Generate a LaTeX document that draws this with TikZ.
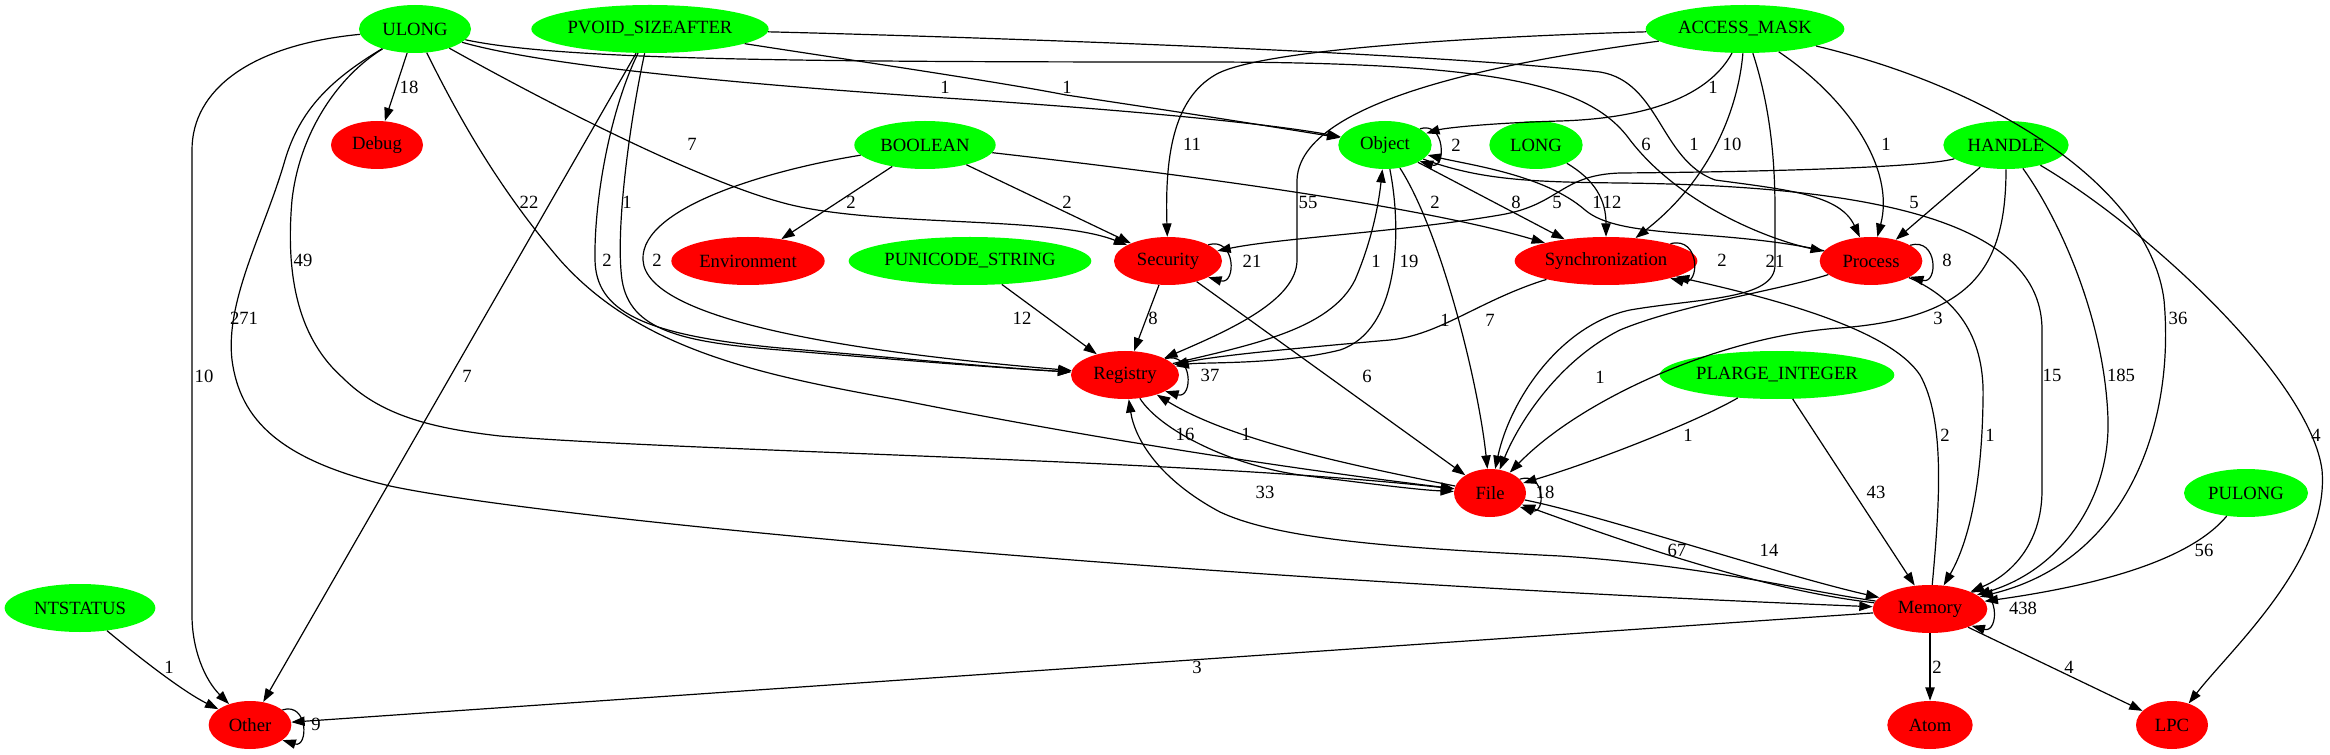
\documentclass[tikz,border=0pt]{standalone}
\usepackage{fontspec}
\setmainfont{Liberation Serif}
\usetikzlibrary{shapes.geometric,arrows.meta}
\begin{document}
\begin{tikzpicture}[x=0.75pt,y=-0.75pt,
  every node/.style={font=\fontsize{14}{16}\selectfont},
  nd/.style={ellipse,inner sep=0pt,minimum height=36pt},
  gn/.style={nd,fill=green},
  rn/.style={nd,fill=red},
  e/.style={draw,line width=0.9pt,-{Triangle[length=10pt,width=7pt]}},
  lbl/.style={inner sep=0pt}]
\useasboundingbox (0,0) rectangle (2330,755);
% nodes
\node[gn,minimum width=84pt] (ULONG) at (415,29) {ULONG};
\node[gn,minimum width=178pt] (PVOID) at (650,29) {PVOID\_SIZEAFTER};
\node[gn,minimum width=149pt] (AM) at (1745,29) {ACCESS\_MASK};
\node[rn,minimum width=69pt] (Debug) at (377,145) {Debug};
\node[gn,minimum width=106pt] (BOOL) at (925,145) {BOOLEAN};
\node[gn,minimum width=70pt] (Object) at (1385,145) {Object};
\node[gn,minimum width=70pt] (LONG) at (1536,145) {LONG};
\node[gn,minimum width=94pt] (HANDLE) at (2006,145) {HANDLE};
\node[rn,minimum width=115pt] (Env) at (748,261) {Environment};
\node[gn,minimum width=182pt] (PUNI) at (970,261) {PUNICODE\_STRING};
\node[rn,minimum width=81pt] (Sec) at (1168,261) {Security};
\node[rn,minimum width=137pt] (Sync) at (1606,261) {Synchronization};
\node[rn,minimum width=77pt] (Proc) at (1871,261) {Process};
\node[rn,minimum width=81pt] (Reg) at (1125,375) {Registry};
\node[gn,minimum width=176pt] (PLI) at (1777,375) {PLARGE\_INTEGER};
\node[rn,minimum width=54pt] (File) at (1490,493) {File};
\node[gn,minimum width=93pt] (PULONG) at (2246,493) {PULONG};
\node[gn,minimum width=113pt] (NTS) at (80,608) {NTSTATUS};
\node[rn,minimum width=86pt] (Mem) at (1930,609) {Memory};
\node[rn,minimum width=62pt] (Other) at (250,725) {Other};
\node[rn,minimum width=64pt] (Atom) at (1930,725) {Atom};
\node[rn,minimum width=54pt] (LPC) at (2172,725) {LPC};
% ULONG edges
\draw[e] (ULONG) -- (Debug);
\draw[e] (ULONG) .. controls (250,45) and (192,90) .. (192,150) -- (192,615) .. controls (192,650) and (205,680) .. (Other);
\draw[e] (ULONG) .. controls (330,80) and (300,110) .. (285,160) .. controls (265,230) and (225,300) .. (232,360) .. controls (240,420) and (280,460) .. (390,486) .. controls (550,520) and (1200,580) .. (Mem);
\draw[e] (ULONG) .. controls (340,75) and (300,130) .. (292,200) .. controls (285,280) and (300,340) .. (343,378) .. controls (380,415) and (430,428) .. (500,436) .. controls (700,452) and (1200,460) .. (File);
\draw[e] (ULONG) .. controls (460,120) and (500,190) .. (560,260) .. controls (640,350) and (760,375) .. (900,400) .. controls (1100,440) and (1300,470) .. (File);
\draw[e] (ULONG) .. controls (560,110) and (700,180) .. (780,202) .. controls (870,228) and (1050,215) .. (Sec);
\draw[e] (ULONG) .. controls (560,70) and (800,88) .. (945,98) .. controls (1100,108) and (1260,122) .. (Object);
\draw[e] (ULONG) .. controls (560,60) and (800,62) .. (1200,62) .. controls (1500,62) and (1590,85) .. (1630,140) .. controls (1680,205) and (1770,240) .. (Proc);
% PVOID edges
\draw[e] (PVOID) -- (Other);
\draw[e] (PVOID) .. controls (630,120) and (615,230) .. (622,280) .. controls (630,330) and (680,342) .. (780,350) .. controls (900,360) and (1000,368) .. (Reg);
\draw[e] (PVOID) .. controls (610,110) and (594,200) .. (595,260) .. controls (596,310) and (640,335) .. (780,348) .. controls (900,358) and (1000,368) .. (Reg);
\draw[e] (PVOID) .. controls (850,60) and (1000,82) .. (1066,95) .. controls (1200,115) and (1280,128) .. (Object);
\draw[e] (PVOID) .. controls (900,35) and (1400,50) .. (1600,72) .. controls (1660,82) and (1660,160) .. (1715,180) .. controls (1790,190) and (1840,195) .. (Proc);
% BOOLEAN edges
\draw[e] (BOOL) -- (Env);
\draw[e] (BOOL) -- (Sec);
\draw[e] (BOOL) .. controls (780,168) and (640,205) .. (643,260) .. controls (646,320) and (850,352) .. (Reg);
\draw[e] (BOOL) .. controls (1100,165) and (1400,200) .. (Sync);
% ACCESS_MASK edges
\draw[e] (AM) .. controls (1500,36) and (1260,48) .. (1215,75) .. controls (1172,100) and (1165,160) .. (Sec);
\draw[e] (AM) .. controls (1560,55) and (1300,90) .. (1297,180) -- (1297,260) .. controls (1297,300) and (1230,330) .. (Reg);
\draw[e] (AM) .. controls (1712,90) and (1660,118) .. (1560,121) .. controls (1490,123) and (1445,128) .. (Object);
\draw[e] (AM) .. controls (1738,110) and (1710,180) .. (Sync);
\draw[e] (AM) .. controls (1768,100) and (1775,150) .. (1775,210) -- (1775,265) .. controls (1775,300) and (1700,298) .. (1630,310) .. controls (1560,325) and (1510,400) .. (File);
\draw[e] (AM) .. controls (1850,100) and (1895,170) .. (Proc);
\draw[e] (AM) .. controls (2000,90) and (2150,190) .. (2164,300) .. controls (2175,420) and (2130,560) .. (Mem);
% other sources
\draw[e] (PUNI) -- (Reg);
\draw[e] (Sec) -- (Reg);
\draw[e] (Sec) -- (File);
\draw[e] (Object) .. controls (1402,230) and (1400,330) .. (1340,350) .. controls (1280,365) and (1200,362) .. (Reg);
\draw[e] (Reg) .. controls (1250,345) and (1330,330) .. (1355,280) .. controls (1370,245) and (1378,210) .. (Object);
\draw[e] (Object) .. controls (1440,230) and (1478,380) .. (File);
\draw[e] (Object) -- (Sync);
\draw[e] (LONG) .. controls (1595,180) and (1606,200) .. (Sync);
\draw[e] (Proc) .. controls (1720,228) and (1620,240) .. (1585,210) .. controls (1545,175) and (1470,165) .. (Object);
\draw[e] (Object) .. controls (1480,180) and (1530,182) .. (1620,183) .. controls (1900,186) and (2042,230) .. (2042,330) -- (2042,490) .. controls (2042,545) and (2010,575) .. (Mem);
\draw[e] (HANDLE) .. controls (1920,168) and (1750,172) .. (1620,173) .. controls (1560,175) and (1560,205) .. (1500,215) .. controls (1400,232) and (1280,238) .. (Sec);
\draw[e] (HANDLE) -- (Proc);
\draw[e] (HANDLE) .. controls (2006,270) and (1970,318) .. (1840,328) .. controls (1720,336) and (1580,400) .. (File);
\draw[e] (HANDLE) .. controls (2060,220) and (2105,320) .. (2108,420) .. controls (2110,500) and (2060,570) .. (Mem);
\draw[e] (HANDLE) .. controls (2150,230) and (2310,380) .. (2322,470) .. controls (2330,560) and (2230,650) .. (LPC);
\draw[e] (Sync) .. controls (1480,300) and (1440,335) .. (1390,340) .. controls (1300,348) and (1220,355) .. (Reg);
\draw[e] (Proc) .. controls (1780,290) and (1680,305) .. (1620,330) .. controls (1560,360) and (1520,420) .. (File);
\draw[e] (Proc) .. controls (1960,300) and (1985,340) .. (1983,400) .. controls (1982,480) and (1970,540) .. (Mem);
\draw[e] (Mem) .. controls (1940,500) and (1945,420) .. (1920,375) .. controls (1890,330) and (1780,300) .. (Sync);
\draw[e] (PLI) .. controls (1700,420) and (1600,460) .. (File);
\draw[e] (PLI) -- (Mem);
\draw[e] (PULONG) .. controls (2190,560) and (2100,585) .. (Mem);
\draw[e] (Mem) -- (Atom);
\draw[e] (Mem) -- (LPC);
\draw[e] (Mem) -- (Other);
\draw[e] (Mem) .. controls (1760,590) and (1620,540) .. (File);
\draw[e] (File) .. controls (1600,515) and (1780,575) .. (Mem);
\draw[e] (Mem) .. controls (1800,590) and (1700,565) .. (1560,556) .. controls (1400,548) and (1280,540) .. (1220,512) .. controls (1160,480) and (1135,440) .. (Reg);
\draw[e] (Reg) .. controls (1160,430) and (1230,465) .. (1300,475) .. controls (1380,485) and (1420,490) .. (File);
\draw[e] (File) .. controls (1350,465) and (1230,440) .. (Reg);
\draw[e] (NTS) .. controls (130,650) and (180,690) .. (Other);
% self loops
\draw[e] (Sec.22) .. controls +(28,-8) and +(28,8) .. (Sec.-22);
\draw[e] (Object.25) .. controls +(26,-8) and +(26,8) .. (Object.-25);
\draw[e] (Sync.15) .. controls +(30,-8) and +(30,8) .. (Sync.-15);
\draw[e] (Proc.22) .. controls +(28,-8) and +(28,8) .. (Proc.-22);
\draw[e] (Reg.22) .. controls +(28,-8) and +(28,8) .. (Reg.-22);
\draw[e] (File.25) .. controls +(26,-8) and +(26,8) .. (File.-25);
\draw[e] (Mem.22) .. controls +(28,-8) and +(28,8) .. (Mem.-22);
\draw[e] (Other.25) .. controls +(26,-8) and +(26,8) .. (Other.-25);
% labels
\node[lbl] (l1) at (409,87) {18};
\node[lbl] (l2) at (204,376) {10};
\node[lbl] (l3) at (244,318) {271};
\node[lbl] (l4) at (303,260) {49};
\node[lbl] (l5) at (529,202) {22};
\node[lbl] (l6) at (692,144) {7};
\node[lbl] (l7) at (945,87) {1};
\node[lbl] (l8) at (1646,144) {6};
\node[lbl] (l9) at (467,376) {7};
\node[lbl] (l10) at (627,202) {1};
\node[lbl] (l11) at (607,260) {2};
\node[lbl] (l12) at (1067,87) {1};
\node[lbl] (l13) at (1694,144) {1};
\node[lbl] (l14) at (851,202) {2};
\node[lbl] (l15) at (1067,202) {2};
\node[lbl] (l16) at (657,260) {2};
\node[lbl] (l17) at (1435,202) {2};
\node[lbl] (l18) at (1192,144) {11};
\node[lbl] (l19) at (1308,202) {55};
\node[lbl] (l20) at (1713,87) {1};
\node[lbl] (l21) at (1732,144) {10};
\node[lbl] (l22) at (1775,261) {21};
\node[lbl] (l23) at (1886,144) {1};
\node[lbl] (l24) at (2178,318) {36};
\node[lbl] (l25) at (1022,318) {12};
\node[lbl] (l26) at (1153,318) {8};
\node[lbl] (l27) at (1367,376) {6};
\node[lbl] (l28) at (1252,261) {21};
\node[lbl] (l29) at (1456,145) {2};
\node[lbl] (l30) at (1409,261) {19};
\node[lbl] (l31) at (1376,261) {1};
\node[lbl] (l32) at (1490,320) {7};
\node[lbl] (l33) at (1516,202) {8};
\node[lbl] (l34) at (1612,202) {12};
\node[lbl] (l35) at (1597,202) {1};
\node[lbl] (l36) at (2052,375) {15};
\node[lbl] (l37) at (1557,202) {5};
\node[lbl] (l38) at (1914,202) {5};
\node[lbl] (l39) at (1938,318) {3};
\node[lbl] (l40) at (2121,375) {185};
\node[lbl] (l41) at (2316,435) {4};
\node[lbl] (l42) at (1445,320) {1};
\node[lbl] (l43) at (1722,260) {2};
\node[lbl] (l44) at (1947,260) {8};
\node[lbl] (l45) at (1600,377) {1};
\node[lbl] (l46) at (1990,435) {1};
\node[lbl] (l47) at (1945,435) {2};
\node[lbl] (l48) at (1688,435) {1};
\node[lbl] (l49) at (1876,492) {43};
\node[lbl] (l50) at (2204,550) {56};
\node[lbl] (l51) at (2023,608) {438};
\node[lbl] (l52) at (1937,667) {2};
\node[lbl] (l53) at (2069,667) {4};
\node[lbl] (l54) at (1197,667) {3};
\node[lbl] (l55) at (1677,550) {67};
\node[lbl] (l56) at (1769,550) {14};
\node[lbl] (l57) at (1265,492) {33};
\node[lbl] (l58) at (1210,375) {37};
\node[lbl] (l59) at (1185,434) {16};
\node[lbl] (l60) at (1246,434) {1};
\node[lbl] (l61) at (1545,492) {18};
\node[lbl] (l62) at (169,667) {1};
\node[lbl] (l63) at (316,724) {9};
\end{tikzpicture}
\end{document}
